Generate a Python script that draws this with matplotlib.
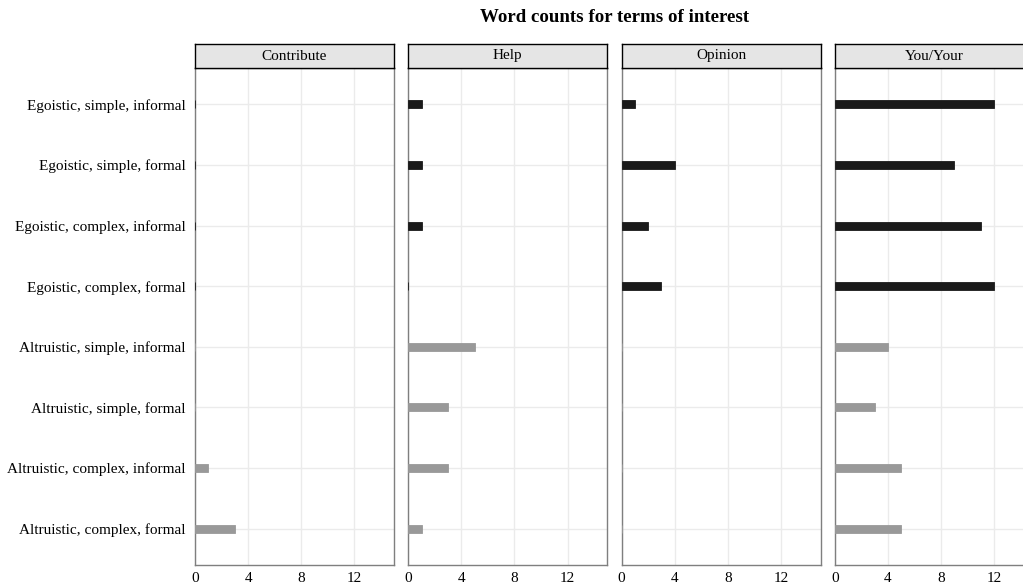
import matplotlib
matplotlib.use("Agg")
from matplotlib import pyplot as plt

plt.rcParams['font.family'] = ['Liberation Serif', 'DejaVu Serif']

conditions = ['Egoistic, simple, informal', 'Egoistic, simple, formal',
              'Egoistic, complex, informal', 'Egoistic, complex, formal',
              'Altruistic, simple, informal', 'Altruistic, simple, formal',
              'Altruistic, complex, informal', 'Altruistic, complex, formal']
terms = ['Contribute', 'Help', 'Opinion', 'You/Your']

contribute = [0, 0, 0, 0, 0, 0, 1, 3]
help_counts = [1, 1, 1, 0, 5, 3, 3, 1]
opinion = [1, 4, 2, 3, 0, 0, 0, 0]
you_your = [12, 9, 11, 12, 4, 3, 5, 5]
counts = [contribute, help_counts, opinion, you_your]

ticks = [0, 4, 8, 12]

W, H = 1023, 587
fig = plt.figure(figsize=(W / 100, H / 100), dpi=100)

left0 = 195
pitch = 213.3
pw = 199
ptop, pbot, stop = 68, 565, 44

# y positions: first condition at top
ypos = [len(conditions) - i for i in range(len(conditions))]
colors = ['#1a1a1a' if c.startswith('Egoistic') else '#999999' for c in conditions]

for k, term in enumerate(terms):
    x0 = left0 + k * pitch
    ax = fig.add_axes([x0 / W, (H - pbot) / H, pw / W, (pbot - ptop) / H])
    ax.barh(ypos, counts[k], height=0.13, color=colors, edgecolor=colors,
            linewidth=0.6, zorder=3)
    ax.set_xlim(0, 15)
    ax.set_ylim(0.4, len(conditions) + 0.6)
    ax.set_xticks(ticks)
    ax.set_xticklabels([str(t) for t in ticks], fontsize=11)
    ax.set_yticks(ypos)
    if k == 0:
        ax.set_yticklabels(conditions, fontsize=11)
    else:
        ax.set_yticklabels([])
    ax.tick_params(length=0, pad=5)
    ax.tick_params(axis='y', pad=6.5)
    ax.grid(True, color='#ebebeb', linewidth=1.0, zorder=0)
    ax.set_axisbelow(True)
    for s in ax.spines.values():
        s.set_color('#7f7f7f')
        s.set_linewidth(1.0)

    # facet strip
    sax = fig.add_axes([x0 / W, (H - ptop) / H, pw / W, (ptop - stop) / H])
    sax.set_facecolor('#e5e5e5')
    sax.set_xticks([])
    sax.set_yticks([])
    for s in sax.spines.values():
        s.set_color('black')
        s.set_linewidth(1.0)
    sax.text(0.5, 0.5, term, ha='center', va='center', fontsize=11,
             transform=sax.transAxes)

fig.text((left0 + 3 * pitch + pw + left0) / 2 / W, 1 - 17 / H,
         'Word counts for terms of interest', ha='center', va='center',
         fontsize=13.6, fontweight='bold')

fig.savefig('out.png', dpi=100)
